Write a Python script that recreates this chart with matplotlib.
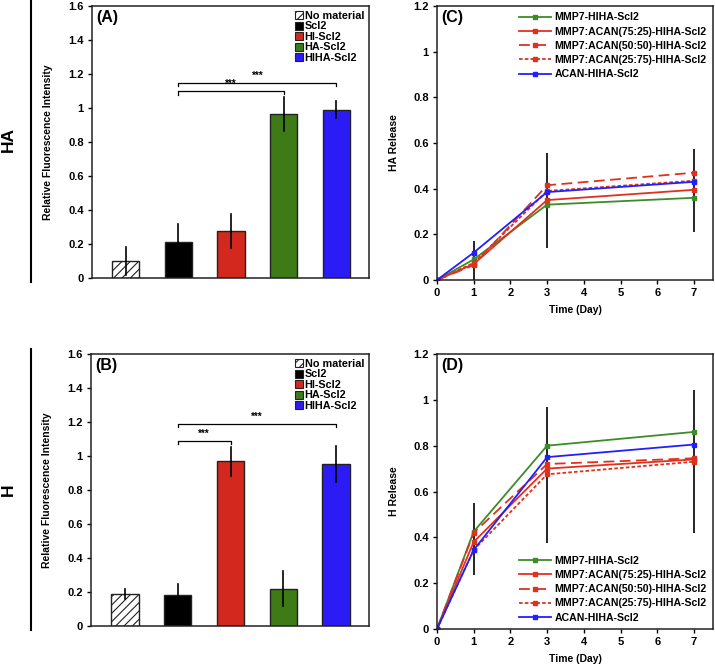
import matplotlib
matplotlib.use("Agg")
import matplotlib.pyplot as plt
from matplotlib.patches import Patch
from matplotlib.lines import Line2D

plt.rcParams['font.family'] = ['Liberation Sans', 'DejaVu Sans']
plt.rcParams['font.weight'] = 'bold'
plt.rcParams['axes.labelweight'] = 'bold'
plt.rcParams['hatch.linewidth'] = 0.8

# ---------------- data ----------------
bar_labels = ["No material", "Scl2", "HI-Scl2", "HA-Scl2", "HIHA-Scl2"]
bar_colors = ["white", "#000000", "#D2281E", "#3E7A16", "#2B1BF5"]

ha_means = [0.10, 0.21, 0.275, 0.965, 0.99]
ha_errs = [0.08, 0.11, 0.10, 0.10, 0.05]
h_means = [0.19, 0.185, 0.97, 0.22, 0.955]
h_errs = [0.03, 0.065, 0.085, 0.105, 0.105]

# significance brackets: (start idx, end idx, level)
ha_sig = [(1, 3, 1.10), (1, 4, 1.15)]
h_sig = [(1, 2, 1.09), (1, 4, 1.19)]

days = [0, 1, 3, 7]
series_names = ["MMP7-HIHA-Scl2", "MMP7:ACAN(75:25)-HIHA-Scl2",
                "MMP7:ACAN(50:50)-HIHA-Scl2", "MMP7:ACAN(25:75)-HIHA-Scl2",
                "ACAN-HIHA-Scl2"]
ha_mmp7 = [0, 0.09, 0.33, 0.36]
ha_7525 = [0, 0.07, 0.35, 0.395]
ha_5050 = [0, 0.065, 0.415, 0.47]
ha_2575 = [0, 0.075, 0.39, 0.435]
ha_acan = [0, 0.12, 0.385, 0.43]
ha_err_low = [0, 0.0, 0.14, 0.21]
ha_err_high = [0, 0.17, 0.555, 0.575]

h_mmp7 = [0, 0.425, 0.80, 0.86]
h_7525 = [0, 0.38, 0.70, 0.74]
h_5050 = [0, 0.42, 0.72, 0.745]
h_2575 = [0, 0.345, 0.675, 0.73]
h_acan = [0, 0.345, 0.75, 0.805]
h_err_low = [0, 0.235, 0.375, 0.42]
h_err_high = [0, 0.55, 0.97, 1.045]

line_colors = ["#3C8C2A", "#E0301E", "#E0301E", "#E0301E", "#2020FF"]
line_styles = ["-", "-", (0, (6, 3)), (0, (2, 1.2)), "-"]

# ---------------- figure ----------------
W, H = 715, 665
fig = plt.figure(figsize=(W / 100, H / 100), dpi=100)


def px_axes(l, t, r, b):
    return fig.add_axes([l / W, 1 - b / H, (r - l) / W, (b - t) / H])


axA = px_axes(92, 6, 369, 278)
axB = px_axes(91, 354, 369, 626)
axC = px_axes(437, 6, 713, 280)
axD = px_axes(437, 354, 713, 629)

TICK_FS = 8
LAB_FS = 7.5


def bar_panel(ax, means, errs, sig, tag):
    x = list(range(len(means)))
    for i in x:
        ax.bar(i, means[i], width=0.52, color=bar_colors[i], edgecolor="#222222",
               linewidth=1.0, hatch="////" if i == 0 else None, zorder=2)
        ax.plot([i, i], [means[i] - errs[i], means[i] + errs[i]], color="black",
                lw=1.2, zorder=3)
    ax.set_xlim(-0.64, 4.62)
    ax.set_ylim(0, 1.6)
    ax.set_yticks([0, 0.2, 0.4, 0.6, 0.8, 1.0, 1.2, 1.4, 1.6])
    ax.set_yticklabels(["0", "0.2", "0.4", "0.6", "0.8", "1", "1.2", "1.4", "1.6"])
    ax.set_xticks([])
    ax.tick_params(axis="y", direction="out", length=3, width=1, labelsize=TICK_FS, pad=3)
    for s in ax.spines.values():
        s.set_linewidth(1.1)
        s.set_color("#222222")
    ax.set_ylabel("Relative Fluorescence Intensity", fontsize=LAB_FS, labelpad=11)
    ax.text(0.015, 0.985, tag, transform=ax.transAxes, fontsize=11.5, fontweight="bold",
            va="top", ha="left")
    for (a, b, lev) in sig:
        ax.plot([a, a, b, b], [lev - 0.022, lev, lev, lev - 0.02], color="black", lw=0.9)
        ax.text((a + b) / 2, lev + 0.01, "***", ha="center", va="bottom", fontsize=7)
    handles = [Patch(facecolor=bar_colors[i], edgecolor="#222222", linewidth=0.8,
                     hatch="////" if i == 0 else None) for i in range(5)]
    ax.legend(handles, bar_labels, loc="upper right", bbox_to_anchor=(1.01, 1.01),
              frameon=False, fontsize=7.8, handlelength=0.75, handleheight=0.75,
              handletextpad=0.15, labelspacing=0.05, borderaxespad=0.3)


bar_panel(axA, ha_means, ha_errs, ha_sig, "(A)")
bar_panel(axB, h_means, h_errs, h_sig, "(B)")


def line_panel(ax, data, lo, hi, tag, ylabel, leg_loc):
    ax.vlines(days, lo, hi, color="black", lw=1.2, zorder=1)
    for i, ys in enumerate(data):
        ax.plot(days, ys, color=line_colors[i], ls=line_styles[i], lw=1.3,
                marker="s", ms=2.8, label=series_names[i], zorder=2)
    ax.set_xlim(0, 7.52)
    ax.set_ylim(0, 1.2)
    ax.set_xticks(range(8))
    ax.set_yticks([0, 0.2, 0.4, 0.6, 0.8, 1.0, 1.2])
    ax.set_yticklabels(["0", "0.2", "0.4", "0.6", "0.8", "1", "1.2"])
    ax.tick_params(direction="out", length=3, width=1, labelsize=TICK_FS, pad=3)
    for s in ax.spines.values():
        s.set_linewidth(1.1)
        s.set_color("#222222")
    ax.set_xlabel("Time (Day)", fontsize=LAB_FS, labelpad=5)
    ax.set_ylabel(ylabel, fontsize=LAB_FS, labelpad=10)
    ax.text(0.015, 0.985, tag, transform=ax.transAxes, fontsize=11.5, fontweight="bold",
            va="top", ha="left")
    handles = [Line2D([0], [0], color=line_colors[i], ls=line_styles[i], lw=1.3,
                      marker="s", ms=2.3) for i in range(5)]
    kw = dict(frameon=False, fontsize=7.6, handlelength=3.1, numpoints=1,
              handletextpad=0.3, labelspacing=0.4, borderaxespad=0.2)
    if leg_loc == "upper":
        ax.legend(handles, series_names, loc="upper right", bbox_to_anchor=(1.0, 1.0), **kw)
    else:
        ax.legend(handles, series_names, loc="lower right", bbox_to_anchor=(1.0, 0.0), **kw)


line_panel(axC, [ha_mmp7, ha_7525, ha_5050, ha_2575, ha_acan], ha_err_low, ha_err_high,
           "(C)", "HA Release", "upper")
line_panel(axD, [h_mmp7, h_7525, h_5050, h_2575, h_acan], h_err_low, h_err_high,
           "(D)", "H Release", "lower")

# side labels and separators
fig.add_artist(Line2D([31 / W, 31 / W], [1 - 282 / H, 1.0], color="black", lw=1.5))
fig.add_artist(Line2D([31 / W, 31 / W], [1 - 630 / H, 1 - 349 / H], color="black", lw=1.5))
fig.text(8 / W, 1 - 140 / H, "HA", rotation=90, fontsize=12.5, fontweight="bold",
         ha="center", va="center")
fig.text(8 / W, 1 - 490 / H, "H", rotation=90, fontsize=12.5, fontweight="bold",
         ha="center", va="center")

fig.savefig("out.png", dpi=100)
